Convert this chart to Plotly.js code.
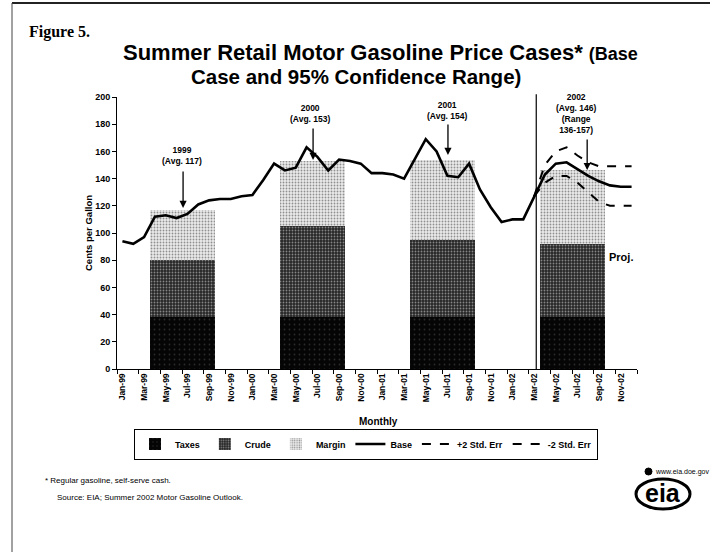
<!DOCTYPE html>
<html>
<head>
<meta charset="utf-8">
<script src="https://cdn.plot.ly/plotly-3.0.1.min.js"></script>
<style>
html,body{margin:0;padding:0;background:#fff;}
#chart{width:710px;height:554px;}
</style>
</head>
<body>
<div id="chart"></div>
<script>
// ---- Data ----
const months = ['Jan-99','Feb-99','Mar-99','Apr-99','May-99','Jun-99','Jul-99','Aug-99','Sep-99','Oct-99','Nov-99','Dec-99',
                'Jan-00','Feb-00','Mar-00','Apr-00','May-00','Jun-00','Jul-00','Aug-00','Sep-00','Oct-00','Nov-00','Dec-00',
                'Jan-01','Feb-01','Mar-01','Apr-01','May-01','Jun-01','Jul-01','Aug-01','Sep-01','Oct-01','Nov-01','Dec-01',
                'Jan-02','Feb-02','Mar-02','Apr-02','May-02','Jun-02','Jul-02','Aug-02','Sep-02','Oct-02','Nov-02','Dec-02'];
const base = [94, 92, 97, 112, 113, 111, 114, 121, 124, 125, 125, 127,
              128, 139, 151, 146, 148, 163, 156, 146, 154, 153, 151, 144,
              144, 143, 140, 155, 169, 160, 142, 141, 151, 132, 119, 108,
              110, 110, 127, 143, 151, 152, 147, 142, 138, 135, 134, 134];
const projMonths = ['Mar-02','Apr-02','May-02','Jun-02','Jul-02','Aug-02','Sep-02','Oct-02','Nov-02','Dec-02'];
const plus2se  = [127, 150, 160, 163, 157, 152, 149, 149, 149, 149];
const minus2se = [127, 137, 142, 142, 137, 130, 123, 120, 120, 120];
const summerYears = ['99','00','01','02'];
const yearLabels = ['1999','2000','2001','2002'];
const taxes  = [38, 38, 38, 38];
const crude  = [42, 67, 57, 54];
const margin = [37, 48, 59, 54];
const avgs   = [117, 153, 154, 146];
const range2002 = '136-157';
const forecastStart = 'Mar-02';
const yTicks = [0,20,40,60,80,100,120,140,160,180,200];

// ---- Derived positions ----
const idx = m => months.indexOf(m);
const xAll = months.map((m,i)=>i);
const xProj = projMonths.map(idx);
const barX = summerYears.map(y => (idx('Apr-'+y) + idx('Sep-'+y)) / 2);
const barW = summerYears.map(y => idx('Sep-'+y) - idx('Apr-'+y) + 1);
const tickVals = xAll.filter(i => i % 2 === 0);
const tickText = tickVals.map(i => months[i]);

const FONT = 'Liberation Sans, Arial, sans-serif';
const bold = (sz) => ({family: FONT, size: sz, color: '#000', weight: 700});

// plot area geometry (pixels)
const L = 117, R = 637, T = 97, B = 369, W = 710, H = 554;
const pxX = p => (p - L) / (R - L);
const pxY = p => (B - p) / (B - T);

const traces = [
  {type:'bar', name:'Taxes', x:barX, y:taxes, width:barW,
   marker:{color:'#050505', line:{width:0},
           pattern:{shape:'.', fgcolor:'#2a2a2a', bgcolor:'#050505', size:5, solidity:0.1}}},
  {type:'bar', name:'Crude', x:barX, y:crude, width:barW,
   marker:{color:'#303030', line:{width:0},
           pattern:{shape:'.', fgcolor:'#858585', bgcolor:'#262626', size:3, solidity:0.3}}},
  {type:'bar', name:'Margin', x:barX, y:margin, width:barW,
   marker:{color:'#d8d8d8', line:{width:0},
           pattern:{shape:'.', fgcolor:'#909090', bgcolor:'#ebebeb', size:3, solidity:0.3}}},
  {type:'scatter', mode:'lines', name:'Base', x:xAll, y:base,
   line:{color:'#000', width:2.6}},
  {type:'scatter', mode:'lines', name:'+2 Std. Err', x:xProj, y:plus2se,
   line:{color:'#000', width:2, dash:'dash'}},
  {type:'scatter', mode:'lines', name:'-2 Std. Err', x:xProj, y:minus2se,
   line:{color:'#000', width:2, dash:'dash'}}
];

// annotations
const annos = [];
const textX = [5.5, 17.3, 29.96, 41.9];
const textY = [157, 188.2, 190, 188.2];
const arrowX = [5.6, 17.6, 30.05, 42.9];
const arrowDY = [1.4, 0.7, 3.4, 0.3];
const tail = [-38, -33, -32, -32];
yearLabels.forEach((yl, i) => {
  let t = yl + '<br>(Avg. ' + avgs[i] + ')';
  if (yl === '2002') t += '<br>(Range<br>' + range2002 + ')';
  annos.push({x:textX[i], y:textY[i], xref:'x', yref:'y', text:t, showarrow:false,
              font:bold(8.5), align:'center', xanchor:'center', yanchor:'middle'});
  annos.push({x:arrowX[i], y:avgs[i] + arrowDY[i], xref:'x', yref:'y', text:'', showarrow:true,
              ax:0, ay:tail[i], arrowhead:2, arrowsize:1.1, arrowwidth:1.3, arrowcolor:'#000'});
});

function ptext(x, y, text, font, extra) {
  annos.push(Object.assign({x:pxX(x), y:pxY(y), xref:'paper', yref:'paper', text:text, showarrow:false,
                            font:font, xanchor:'center', yanchor:'middle'}, extra || {}));
}
annos.push({x:46.06, y:82.4, xref:'x', yref:'y', text:'Proj.', showarrow:false, font:bold(11),
            xanchor:'center', yanchor:'middle'});
ptext(88, 233, 'Cents per Gallon', bold(9.5), {textangle:-90});
ptext(378, 421, 'Monthly', bold(10));
ptext(27, 32, 'Figure 5.', {family:'Liberation Serif, Times New Roman, serif', size:16, color:'#000', weight:700}, {xanchor:'left'});
ptext(380, 53, 'Summer Retail Motor Gasoline Price Cases* <span style="font-size:18px">(Base</span>', bold(22));
ptext(356, 76, 'Case and 95% Confidence Range)', bold(20.5));
ptext(43, 481, '* Regular gasoline, self-serve cash.', {family:FONT, size:8, color:'#000'}, {xanchor:'left'});
ptext(55, 497, 'Source: EIA; Summer 2002 Motor Gasoline Outlook.', {family:FONT, size:8, color:'#000'}, {xanchor:'left'});
ptext(682, 472, 'www.eia.doe.gov', {family:FONT, size:7, color:'#000'});
ptext(663, 493, 'eia', {family:FONT, size:25, color:'#000', weight:700});

const shapes = [
  {type:'line', xref:'x', yref:'paper', x0:idx(forecastStart)+0.2, x1:idx(forecastStart)+0.2, y0:0, y1:1.01,
   line:{color:'#000', width:1.2}},
  {type:'line', xref:'paper', yref:'paper', x0:pxX(12), x1:pxX(710), y0:pxY(3), y1:pxY(3), line:{color:'#222', width:2}},
  {type:'line', xref:'paper', yref:'paper', x0:pxX(12), x1:pxX(12), y0:pxY(3), y1:pxY(552), line:{color:'#444', width:1}},
  {type:'circle', xref:'paper', yref:'paper', x0:pxX(636), x1:pxX(690), y0:pxY(479), y1:pxY(509),
   line:{color:'#000', width:3}},
  {type:'circle', xref:'paper', yref:'paper', x0:pxX(645), x1:pxX(652), y0:pxY(468), y1:pxY(475),
   line:{color:'#000', width:1}, fillcolor:'#000'}
];

const layout = {
  width:W, height:H,
  margin:{l:L, r:W-R, t:T, b:H-B, pad:0},
  paper_bgcolor:'#fff', plot_bgcolor:'#fff',
  barmode:'stack', bargap:0,
  showlegend:true,
  legend:{orientation:'h', x:pxX(366), xanchor:'center', y:pxY(444), yanchor:'middle',
          traceorder:'normal', bordercolor:'#000', borderwidth:1, bgcolor:'#fff',
          font:bold(9), itemwidth:30, tracegroupgap:0},
  xaxis:{range:[-0.5, 47.5], tickmode:'array', tickvals:tickVals, ticktext:tickText, tickangle:-90,
         ticks:'', showgrid:false, zeroline:false, showline:true, linecolor:'#000', linewidth:1,
         tickfont:bold(8.5),
         minor:{tick0:-0.5, dtick:2, ticks:'outside', ticklen:4, tickcolor:'#000', showgrid:false}},
  yaxis:{range:[0,200], tickmode:'array', tickvals:yTicks, ticks:'outside', ticklen:4, tickcolor:'#000',
         showgrid:false, zeroline:false, showline:true, linecolor:'#000', linewidth:1,
         tickfont:bold(9)},
  annotations:annos,
  shapes:shapes
};

Plotly.newPlot('chart', traces, layout, {displayModeBar:false, staticPlot:true});
</script>
</body>
</html>
